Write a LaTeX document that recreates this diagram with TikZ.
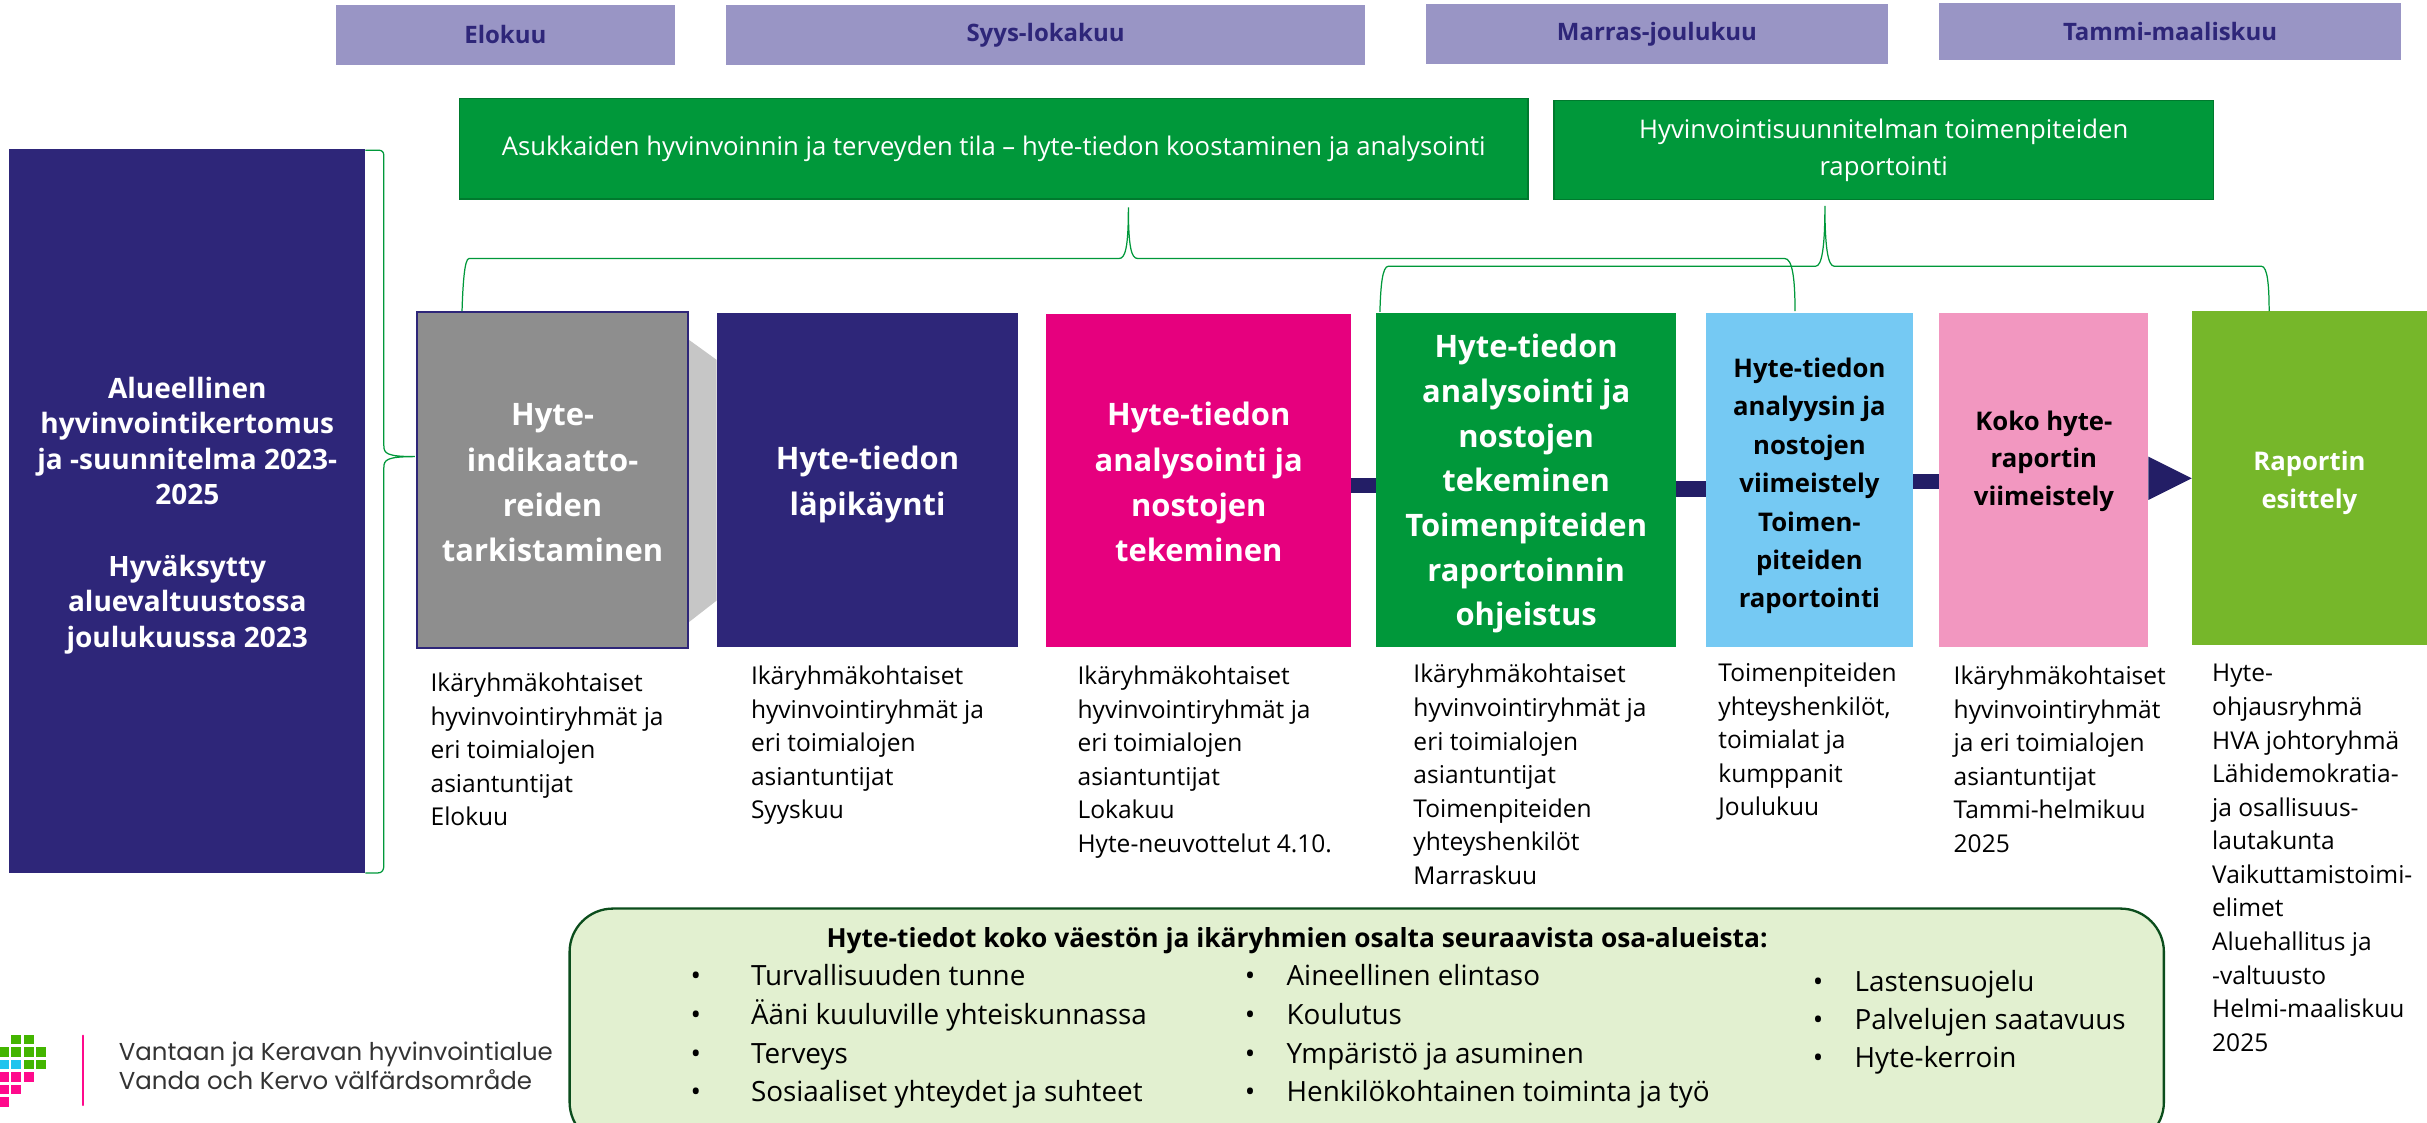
\documentclass[tikz,border=0pt]{standalone}
\usepackage{fontspec}
\setmainfont{Open Sans}
\newfontfamily\logofont{Poppins}
\definecolor{navy}{HTML}{2E2679}
\definecolor{flownavy}{HTML}{231E66}
\definecolor{monthc}{HTML}{9995C5}
\definecolor{grn}{HTML}{00983A}
\definecolor{grndark}{HTML}{007A2E}
\definecolor{greyb}{HTML}{8E8E8E}
\definecolor{chevgrey}{HTML}{C6C6C6}
\definecolor{magent}{HTML}{E6007E}
\definecolor{skyb}{HTML}{75C9F3}
\definecolor{pinkb}{HTML}{F297C0}
\definecolor{lime}{HTML}{76B72A}
\definecolor{palegrn}{HTML}{E2F0D0}
\definecolor{darkgrn}{HTML}{0B4D1C}
\definecolor{logog}{HTML}{43B500}
\definecolor{logoc}{HTML}{1FC4EE}
\definecolor{logop}{HTML}{FF0A8C}
\tikzset{
  x=1pt,y=-1pt,
  block/.style={inner sep=0pt,outer sep=0pt,align=center,font=\fontsize{20}{29.3}\selectfont\bfseries,text=white},
  monthbox/.style={block,fill=monthc,text=navy,font=\fontsize{15.5}{20}\selectfont\bfseries},
  topbox/.style={block,fill=grn,draw=grndark,line width=1pt,font=\fontsize{16.6}{24}\selectfont\mdseries},
  note/.style={anchor=north west,inner sep=0pt,align=left,text=black,font=\fontsize{15.85}{21.7}\selectfont},
  brace/.style={draw=grn,line width=0.8pt},
  flow/.style={draw=flownavy,line width=10pt},
  bulletlist/.style={anchor=north west,inner sep=0pt,align=left,text=black,font=\fontsize{18}{25}\selectfont},
  bulletlistc/.style={bulletlist,font=\fontsize{18}{24.5}\selectfont},
  sq/.style={minimum size=6.3pt,inner sep=0pt,outer sep=0pt},
}
\newcommand{\bulletmark}{\vphantom{d}•}
\begin{document}
\begin{tikzpicture}
\useasboundingbox (0,0) rectangle (1568,724.9);
% months
\node[monthbox,minimum width=219pt,minimum height=39pt] (m1) at (326.5,22.5) {Elokuu};
\node[monthbox,minimum width=413pt,minimum height=39pt] (m2) at (675.5,22.5) {Syys-lokakuu};
\node[monthbox,minimum width=299pt,minimum height=39pt] (m3) at (1070.5,22) {Marras-joulukuu};
\node[monthbox,minimum width=298pt,minimum height=37pt] (m4) at (1402,20.5) {Tammi-maaliskuu};
% top green
\node[topbox,minimum width=690pt,minimum height=65pt] (t1) at (642,96) {Asukkaiden hyvinvoinnin ja terveyden tila – hyte-tiedon koostaminen ja analysointi};
\node[topbox,minimum width=426pt,minimum height=64pt] (t2) at (1217,97) {Hyvinvointisuunnitelman toimenpiteiden\\raportointi};
\path (t2.south) ++(0,0);
% left
\node[block,fill=navy,minimum width=230pt,minimum height=468pt,font=\fontsize{18.1}{23}\selectfont\bfseries] (left) at (121,330) {};
\node[block,font=\fontsize{18.1}{23}\selectfont\bfseries] (lefttext) at (121,333) {Alueellinen\\hyvinvointikertomus\\ja -suunnitelma 2023-\\2025\\[23pt]Hyväksytty\\aluevaltuustossa\\joulukuussa 2023};
% chevron behind
\fill[chevgrey] (445,219.5) -- (463,232.5) -- (463,388) -- (445,402) -- cycle;
% boxes
\node[block,fill=magent,minimum width=197pt,minimum height=215pt] (b3) at (774.5,310.5) {};
\node[block] (b3t) at (774.5,311.5) {Hyte-tiedon\\analysointi ja\\nostojen\\tekeminen};
\node[block,fill=grn,minimum width=194pt,minimum height=216pt] (b4) at (986,310) {};
\node[block,font=\fontsize{20}{28.9}\selectfont\bfseries] (b4t) at (986,312.5) {Hyte-tiedon\\analysointi ja\\nostojen\\tekeminen\\Toimenpiteiden\\raportoinnin\\ohjeistus};
\node[block,fill=skyb,minimum width=134pt,minimum height=216pt] (b5) at (1169,310) {};
\node[block,text=black,font=\fontsize{16.6}{24.8}\selectfont\bfseries] (b5t) at (1169,314) {Hyte-tiedon\\analyysin ja\\nostojen\\viimeistely\\Toimen-\\piteiden\\raportointi};
\node[block,fill=pinkb,minimum width=135pt,minimum height=216pt] (b6) at (1320.5,310) {};
\node[block,text=black,font=\fontsize{16.6}{24.5}\selectfont\bfseries] (b6t) at (1320.5,298) {Koko hyte-\\raportin\\viimeistely};
\node[block,fill=lime,minimum width=152pt,minimum height=216pt] (b7) at (1492,309) {};
\node[block,font=\fontsize{16.6}{25}\selectfont\bfseries] (b7t) at (1492,312) {Raportin\\esittely};
\node[block,fill=greyb,draw=navy,line width=1.5pt,minimum width=175pt,minimum height=217pt] (b1) at (357,310) {};
\node[block] (b1t) at (357,312) {Hyte-\\indikaatto-\\reiden\\tarkistaminen};
\node[block,fill=navy,minimum width=195pt,minimum height=216pt] (b2) at (560.5,310) {};
\node[block] (b2t) at (560.5,313) {Hyte-tiedon\\läpikäynti};
% flow arrows
\draw[flow] ([yshift=-3pt]b3.east) -- ([yshift=-3pt]b3.east -| b4.west);
\draw[flow] ([yshift=-6pt]b4.east) -- ([yshift=-6pt]b4.east -| b5.west);
\draw[flow] ([yshift=-1pt]b5.east) -- ([yshift=-1pt]b5.east -| b6.west);
\fill[flownavy] (b6.east |- 0,295) -- (b6.east |- 0,323) -- (b7.west |- 0,309) -- cycle;
% braces
\coordinate (lt) at (236,97);\coordinate (lb) at (236,564);\coordinate (ltip) at (268,295);
\draw[brace] (lt) -- (244,97) .. controls (247,97) and (248,98) .. (248,101) -- (248,288) .. controls (248,293) and (250,295) .. (ltip) .. controls (250,295) and (248,297) .. (248,302) -- (248,559) .. controls (248,562) and (247,564) .. (244,564) -- (lb);
\coordinate (t1tip) at (729,134);
\draw[brace] (298.5,201) .. controls (299,185) and (300,167) .. (303,167) -- (723,167) .. controls (727,167) and (729,160) .. (t1tip) .. controls (729,160) and (731,167) .. (735,167) -- (1153,167) .. controls (1158,167) and (1159.7,180) .. (1159.7,201);
\coordinate (t2tip) at (1179,133);
\draw[brace] (891.5,201.5) .. controls (892,185) and (893,172) .. (897,172) -- (1173,172) .. controls (1177,172) and (1179,160) .. (t2tip) .. controls (1179,160) and (1181,172) .. (1185,172) -- (1461,172) .. controls (1465,172) and (1466,185) .. (1466,201);
% notes
\node[note] (n1) at (278,434.5) {Ikäryhmäkohtaiset\\hyvinvointiryhmät ja\\eri toimialojen\\asiantuntijat\\Elokuu};
\node[note] (n2) at (485,430) {Ikäryhmäkohtaiset\\hyvinvointiryhmät ja\\eri toimialojen\\asiantuntijat\\Syyskuu};
\node[note] (n3) at (696,430) {Ikäryhmäkohtaiset\\hyvinvointiryhmät ja\\eri toimialojen\\asiantuntijat\\Lokakuu\\Hyte-neuvottelut 4.10.};
\node[note] (n4) at (913,429) {Ikäryhmäkohtaiset\\hyvinvointiryhmät ja\\eri toimialojen\\asiantuntijat\\Toimenpiteiden\\yhteyshenkilöt\\Marraskuu};
\node[note] (n5) at (1110,428) {Toimenpiteiden\\yhteyshenkilöt,\\toimialat ja\\kumppanit\\Joulukuu};
\node[note] (n6) at (1262,430) {Ikäryhmäkohtaiset\\hyvinvointiryhmät\\ja eri toimialojen\\asiantuntijat\\Tammi-helmikuu\\2025};
\node[note] (n7) at (1429,429) {Hyte-\\ohjausryhmä\\HVA johtoryhmä\\Lähidemokratia-\\ja osallisuus-\\lautakunta\\Vaikuttamistoimi-\\elimet\\Aluehallitus ja\\-valtuusto\\Helmi-maaliskuu\\2025};
% bottom panel
\draw[fill=palegrn,draw=darkgrn,line width=1.5pt,rounded corners=28pt] (368,587) rectangle (1398,740);
\node[inner sep=0pt,text=black,font=\fontsize{17}{20}\selectfont\bfseries] (bt) at (838,608) {Hyte-tiedot koko väestön ja ikäryhmien osalta seuraavista osa-alueista:};
\node[bulletlist] (b1a) at (446,623) {\bulletmark\\•\\•\\•};
\node[bulletlist] (l1) at (485,623) {Turvallisuuden tunne\\Ääni kuuluville yhteiskunnassa\\Terveys\\Sosiaaliset yhteydet ja suhteet};
\node[bulletlist] (b2a) at (804,623) {\bulletmark\\•\\•\\•};
\node[bulletlist] (l2) at (831,623) {Aineellinen elintaso\\Koulutus\\Ympäristö ja asuminen\\Henkilökohtainen toiminta ja työ};
\node[bulletlistc] (b3a) at (1171,627) {\bulletmark\\•\\•};
\node[bulletlistc] (l3) at (1198,627) {Lastensuojelu\\Palvelujen saatavuus\\Hyte-kerroin};
% logo
\foreach \i/\x/\y/\c in {a/10.5/671.5/logog,b/18.5/671.5/logog,
  c/2.4/679.6/logog,d/10.5/679.6/logog,e/18.5/679.6/logog,f/26.5/679.6/logog,
  g/2.4/687.7/logoc,h/10.5/687.7/logoc,i/18.5/687.7/logog,j/26.5/687.7/logog,
  k/2.4/695.8/logop,l/10.5/695.8/logop,m/18.5/695.8/logop,
  n/2.4/703.9/logop,o/10.5/703.9/logop,
  p/2.4/712/logop}
  \node[sq,fill=\c] (sq\i) at (\x,\y) {};
\draw[logop,line width=1.2pt,line cap=round] (53.6,669) -- (53.6,714);
\node[anchor=north west,inner sep=0pt,align=left,text=black!80,font=\logofont\fontsize{15.8}{18.6}\selectfont] (logo) at (76.6,673) {Vantaan ja Keravan hyvinvointialue\\Vanda och Kervo välfärdsområde};
\end{tikzpicture}
\end{document}
